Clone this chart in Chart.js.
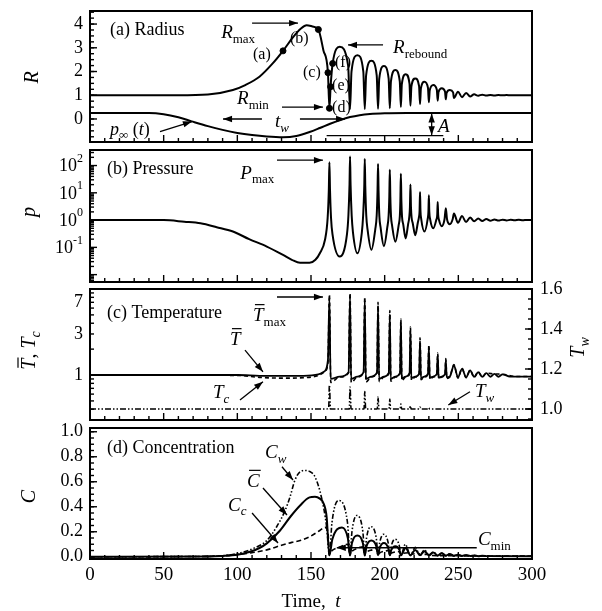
<!DOCTYPE html>
<html><head><meta charset="utf-8">
<script src="https://cdn.jsdelivr.net/npm/chart.js@4.4.1/dist/chart.umd.min.js"></script>
<style>
  html, body { margin: 0; padding: 0; background: #fff; }
  #wrap { position: relative; width: 602px; height: 611px; }
  canvas { position: absolute; left: 0; top: 0; }
</style></head>
<body>
<div id="wrap">
  <canvas id="ca" width="602" height="611"></canvas>
  <canvas id="cb" width="602" height="611"></canvas>
  <canvas id="cc" width="602" height="611"></canvas>
  <canvas id="cd" width="602" height="611"></canvas>
</div>
<script>
// ---- data: [time, value] ----
const radius = [
  [0,1],[60,1],[80,1.03],[97,1.22],[105,1.42],[115,1.78],[124,2.34],[131,2.87],[138,3.46],[143,3.8],[147,3.95],[151,3.9],[155,3.77],[158.4,2.9],[161.5,1.95],[162.5,0.45],
  [163.3,1.36],[164.7,2.34],[169.5,3.04],[175.2,2.25],[176.5,0.42],
  [177.5,2.01],[181.5,2.69],[185.5,2.01],[186.5,0.42],
  [187.4,1.84],[191,2.45],[194.6,1.84],[195.5,0.43],
  [196.3,1.69],[199.5,2.23],[202.7,1.7],[203.5,0.45],
  [204.25,1.58],[207.25,2.06],[210.25,1.59],[211,0.5],
  [211.65,1.47],[214.25,1.89],[216.85,1.49],[217.5,0.56],
  [218.15,1.37],[220.75,1.71],[223.35,1.39],[224,0.63],
  [224.6,1.29],[227,1.57],[229.4,1.31],[230,0.7],
  [230.6,1.21],[233,1.43],[235.4,1.23],[236,0.77],
  [236.55,1.14],[238.75,1.3],[240.95,1.16],[241.5,0.83],
  [242.05,1.1],[244.25,1.22],[246.45,1.12],[247,0.88],
  [249.75,1.15],[252.5,0.92],[255.25,1.1],[258,0.95],[260.75,1.04],[263.5,0.98],[266.25,1.025],[269,0.985],
  [271.75,1.015],[274.5,0.99],[277.25,1.01],[280,0.995],[282.75,1.008],[285.5,0.995],[288.25,1.005],[291,0.997],
  [293.75,1.004],[296.5,0.998],[300,1]
];
const radiusDots = [[131,2.87],[155,3.77],[161.5,1.95],[162.5,0.45],[163.3,1.36],[164.7,2.34]];
const dotNames = ['(a)','(b)','(c)','(d)','(e)','(f)'];
const pInf = [
  [0,0.25],[40,0.25],[50,0.2],[60,0.07],[69,-0.1],[80,-0.3],[90,-0.46],[100,-0.59],[110,-0.68],[120,-0.74],[131,-0.77],
  [140,-0.72],[149,-0.55],[156,-0.38],[163,-0.2],[170,-0.04],[176.5,0.08],[183,0.16],[190,0.21],[200,0.24],[215,0.25],[300,0.25]
];
const pressure = [
  [0,1],[50,1],[64,0.87],[75,0.76],[86,0.55],[97,0.38],[108,0.2],[120,0.107],[131,0.053],[137,0.035],[142.6,0.027],[149,0.027],[153,0.035],[156,0.061],[159.5,0.19],
  [161.3,1.2],[162.1,13],[162.5,132],[162.9,13],
  [163.6,1.2],[164.6,0.3],[169.5,0.046],[174.4,0.3],[175.4,1.5],[176.15,21],[176.5,213],[176.85,21],
  [177.6,1.5],[178.5,0.35],[181.5,0.061],[184.5,0.35],[185.4,1.5],[186.15,17],[186.5,175],[186.85,17],
  [187.5,1.5],[188.4,0.45],[191,0.081],[193.6,0.45],[194.6,1.5],[195.15,12],[195.5,115],[195.85,12],
  [196.4,1.4],[197.2,0.55],[199.5,0.11],[201.8,0.55],[202.7,1.5],[203.15,7],[203.5,70],[203.85,7],
  [204.3,1.4],[205,0.65],[207.25,0.16],[209.5,0.65],[210.3,1.4],[210.65,5],[211,50],[211.35,5],
  [211.8,1.3],[212.6,0.7],[214.25,0.21],[215.9,0.7],[216.7,1.3],[217.15,3],[217.5,20],[217.85,3],
  [218.3,1.2],[219,0.8],[220.75,0.28],[222.5,0.8],[223.3,1.3],[223.7,2.2],[224,10.7],[224.3,2.2],
  [224.8,1.1],[227,0.38],[229.2,1.1],[229.7,2],[230,8.1],[230.3,2],
  [230.9,1.05],[233,0.5],[235.1,1.05],[235.7,1.6],[236,4.6],[236.3,1.6],
  [236.9,1],[238.75,0.6],[240.6,1.05],[241.5,2.7],
  [242.3,1.1],[244.25,0.71],[246.2,1.1],[247,1.75],
  [249.75,0.8],[252.5,1.4],[255.25,0.85],[258,1.25],[260.75,0.9],[263.5,1.15],[266.25,0.93],[269,1.1],
  [271.75,0.95],[274.5,1.06],[277.25,0.96],[280,1.04],[282.75,0.97],[285.5,1.03],[288.25,0.98],[291,1.02],
  [293.75,0.985],[296.5,1.015],[300,1]
];
const tBar = [
  [0,1],[100,1],[115,0.98],[130,0.975],[145,0.98],[155,1.02],[159,1.1],[161.5,1.5],[162.5,7.9],
  [163.3,0.9],[169.5,0.96],[175.5,1.08],[176.5,8.3],
  [177.2,0.9],[181.5,0.96],[185.7,1.08],[186.5,7.4],
  [187.2,0.9],[191,0.96],[194.8,1.07],[195.5,6.4],
  [196.2,0.9],[199.5,0.96],[202.8,1.06],[203.5,5.1],
  [204.1,0.9],[207.25,0.96],[210.4,1.05],[211,4.1],
  [211.6,0.91],[214.25,0.96],[216.9,1.05],[217.5,3.3],
  [218.1,0.92],[220.75,0.96],[223.4,1.04],[224,2.5],
  [224.6,0.92],[227,0.96],[229.4,1.04],[230,2.1],
  [230.6,0.93],[233,0.96],[235.4,1.03],[236,1.69],
  [236.6,0.93],[238.75,0.96],[241,1.03],[241.5,1.48],
  [242.1,0.94],[244.25,0.96],[247,1.29],[249.75,0.94],[252.5,1.18],[255.25,0.94],[258,1.13],[260.75,0.95],
  [263.5,1.08],[266.25,0.95],[269,1.05],[271.75,0.955],[274.5,1.03],[277.25,0.955],[280,1.02],[285,0.96],[300,0.96]
];
const tCore = [
  [0,1],[100,0.99],[115,0.94],[130,0.92],[145,0.93],[155,0.99],[159,1.08],[161.5,1.4],[162.5,8.6],
  [163.4,0.82],[169.5,0.95],[175.5,1.06],[176.5,9],
  [177.3,0.82],[181.5,0.95],[185.7,1.06],[186.5,8.1],
  [187.3,0.83],[191,0.95],[194.8,1.05],[195.5,7],
  [196.3,0.84],[199.5,0.95],[202.8,1.04],[203.5,5.6],
  [204.2,0.85],[207.25,0.95],[210.4,1.04],[211,4.5],
  [211.7,0.86],[214.25,0.95],[216.9,1.03],[217.5,3.6],
  [218.2,0.87],[220.75,0.95],[223.4,1.03],[224,2.7],
  [224.7,0.88],[227,0.95],[229.4,1.02],[230,2.25],
  [230.7,0.89],[233,0.95],[235.4,1.02],[236,1.8],
  [236.7,0.9],[238.75,0.95],[241,1.02],[241.5,1.55],
  [242.2,0.91],[244.25,0.95],[247,1.32],[249.75,0.92],[252.5,1.2],[255.25,0.93],[258,1.14],[260.75,0.94],
  [263.5,1.09],[266.25,0.945],[269,1.05],[274.5,1.03],[280,1.02],[290,0.96],[300,0.96]
];
const tWall = [
  [0,1],[160,1],[162,1.005],[162.5,1.12],[163.2,1],[176,1],[176.5,1.11],[177.2,1],[186,1],[186.5,1.087],[187.1,1],
  [195,1],[195.5,1.06],[196.1,1],[203,1],[203.5,1.05],[204,1],[210.5,1],[211,1.025],[211.5,1],[217,1],[217.5,1.015],[218,1],
  [223.5,1],[224,1.01],[224.5,1],[229.5,1],[230,1.006],[230.5,1],[300,1]
];
const cMean = [
  [0,0],[80,0.002],[90,0.006],[100,0.016],[108.6,0.04],[115,0.07],[120,0.107],[129,0.21],[136,0.32],[142.6,0.41],[149,0.475],[152.7,0.48],[156,0.465],[158.4,0.43],[160.6,0.32],[162.5,0.01],
  [164.5,0.14],[171,0.235],[175,0.15],[176.5,0.01],
  [177.8,0.11],[181.5,0.17],[185.2,0.11],[186.5,0.01],
  [187.7,0.085],[191,0.13],[194.3,0.085],[195.5,0.012],
  [196.6,0.07],[199.5,0.11],[202.4,0.07],[203.5,0.012],
  [204.5,0.055],[207.25,0.085],[210,0.055],[211,0.012],
  [214.25,0.07],[217.5,0.012],[220.75,0.055],[224,0.012],[227,0.045],[230,0.012],[233,0.035],[236,0.01],[238.75,0.028],[241.5,0.01],
  [244.25,0.022],[247,0.008],[249.75,0.017],[252.5,0.007],[255.25,0.013],[258,0.006],[260.75,0.01],[263.5,0.005],[266.25,0.008],[270,0.005],[300,0.004]
];
const cWall = [
  [0,0],[80,0.003],[90,0.008],[100,0.025],[111,0.067],[120,0.13],[126.7,0.24],[132.4,0.37],[135.8,0.48],[139,0.61],[142.6,0.68],[146,0.69],[149.5,0.68],[152.7,0.64],[157,0.48],[160.6,0.24],[162.5,0.01],
  [164.2,0.27],[168.6,0.45],[174.8,0.27],[176.5,0.01],
  [177.8,0.2],[181,0.33],[185.2,0.2],[186.5,0.01],
  [187.7,0.15],[190.5,0.24],[194.3,0.15],[195.5,0.01],
  [196.6,0.11],[199.2,0.18],[202.4,0.11],[203.5,0.01],
  [204.5,0.085],[207,0.14],[210,0.085],[211,0.01],
  [214,0.1],[217.5,0.01],[220.75,0.075],[224,0.01],[227,0.055],[230,0.008],[233,0.04],[236,0.007],[238.75,0.03],[241.5,0.006],
  [244.25,0.024],[247,0.005],[249.75,0.018],[252.5,0.005],[255.25,0.014],[258,0.004],[260.75,0.011],[263.5,0.004],[266.25,0.008],[269,0.004],[300,0.004]
];
const cCore = [
  [0,0],[80,0.003],[90,0.008],[100,0.018],[110,0.033],[120,0.055],[130,0.092],[137,0.115],[142.6,0.13],[149,0.16],[156,0.21],[159.5,0.235],[161.5,0.2],[162.5,0.02],
  [163.5,0.04],[170,0.08],[175,0.1],[176.5,0.02],
  [177.5,0.04],[182,0.07],[185.5,0.08],[186.5,0.02],
  [187.5,0.035],[191.5,0.055],[194.7,0.065],[195.5,0.02],
  [196.5,0.03],[200,0.045],[202.8,0.05],[203.5,0.018],
  [204.5,0.03],[210.3,0.04],[211,0.016],
  [212,0.025],[216.8,0.032],[217.5,0.014],
  [218.5,0.02],[223.3,0.026],[224,0.012],
  [225,0.016],[229.4,0.02],[230,0.01],
  [240,0.009],[260,0.006],[300,0.005]
];

// tick labels
const rTicks = [0, 1, 2, 3, 4];
const pDecades = [2, 1, 0, -1];
const tTicks = [1, 3, 7];
const twTicks = [1.0, 1.2, 1.4, 1.6];
const cTicks = [0, 0.2, 0.4, 0.6, 0.8, 1.0];
const timeTicks = [0, 50, 100, 150, 200, 250, 300];

Chart.defaults.font.family = '"Liberation Serif", "Times New Roman", serif';
Chart.defaults.font.size = 18;
Chart.defaults.color = '#000';

const FONT = '"Liberation Serif", serif';

function rich(ctx, x, y, parts, size = 18, align = 'left') {
  ctx.textBaseline = 'middle';
  ctx.textAlign = 'left';
  const seg = parts.map(([s, k]) => {
    const sub = k.includes('s');
    const fs = sub ? Math.round(size * 0.7) : size;
    return { s, k, sub, font: (k.includes('i') ? 'italic ' : '') + fs + 'px ' + FONT };
  });
  let w = 0;
  seg.forEach(g => { ctx.font = g.font; g.w = ctx.measureText(g.s).width; w += g.w; });
  let cx = align === 'center' ? x - w / 2 : x;
  seg.forEach(g => {
    ctx.font = g.font;
    ctx.fillText(g.s, cx, g.sub ? y + size * 0.32 : y);
    if (g.k.includes('b')) {
      ctx.beginPath(); ctx.lineWidth = 1.2;
      ctx.moveTo(cx + 2, y - size * 0.6); ctx.lineTo(cx + g.w + 1, y - size * 0.6); ctx.stroke();
    }
    cx += g.w;
  });
}
function vrich(ctx, x, y, parts, size) {
  ctx.save(); ctx.translate(x, y); ctx.rotate(-Math.PI / 2);
  rich(ctx, 0, 0, parts, size, 'center');
  ctx.restore();
}
function head(ctx, x, y, ang) {
  const L = 9, W = 3.2, c = Math.cos(ang), s = Math.sin(ang);
  ctx.beginPath();
  ctx.moveTo(x, y);
  ctx.lineTo(x - L * c + W * s, y - L * s - W * c);
  ctx.lineTo(x - L * c - W * s, y - L * s + W * c);
  ctx.closePath(); ctx.fill();
}
function arrow(ctx, p1, p2, both) {
  const ang = Math.atan2(p2[1] - p1[1], p2[0] - p1[0]);
  ctx.lineWidth = 1.3;
  ctx.beginPath(); ctx.moveTo(p1[0], p1[1]); ctx.lineTo(p2[0], p2[1]); ctx.stroke();
  head(ctx, p2[0], p2[1], ang);
  if (both) head(ctx, p1[0], p1[1], ang + Math.PI);
}

function deco(spec) {
  return {
    id: 'deco',
    afterDraw(chart) {
      const ctx = chart.ctx, a = chart.chartArea, xs = chart.scales.x;
      ctx.save();
      ctx.strokeStyle = '#000'; ctx.fillStyle = '#000'; ctx.lineWidth = 1.4;
      const seg = (x1, y1, x2, y2) => { ctx.beginPath(); ctx.moveTo(x1, y1); ctx.lineTo(x2, y2); ctx.stroke(); };
      for (let t = 0; t <= 300; t += 10) {
        const x = xs.getPixelForValue(t);
        seg(x, a.bottom, x, a.bottom - (t % 50 === 0 ? 7 : 4));
      }
      const side = (axis, vals, L, right) => {
        const s = chart.scales[axis];
        vals.forEach(v => {
          const y = s.getPixelForValue(v);
          if (y < a.top - 0.5 || y > a.bottom + 0.5) return;
          if (right) seg(a.right, y, a.right - L, y); else seg(a.left, y, a.left + L, y);
        });
      };
      side('y', spec.minor, 4); side('y', spec.major, 7);
      if (spec.rMajor) { side('y2', spec.rMinor, 4, true); side('y2', spec.rMajor, 7, true); }
      ctx.lineWidth = 2;
      ctx.strokeRect(a.left, a.top, a.right - a.left, a.bottom - a.top);
      const P = (t, v, ax = 'y') => [xs.getPixelForValue(t), chart.scales[ax].getPixelForValue(v)];
      spec.draw(ctx, P, a, chart);
      ctx.restore();
    }
  };
}

function line(data, extra) {
  return Object.assign({
    data: data.map(([x, y]) => ({ x, y })),
    borderColor: '#000', borderWidth: 2, pointRadius: 0,
    cubicInterpolationMode: 'monotone', fill: false
  }, extra || {});
}

function fixV(w) {
  return s => { s.width = w; s.paddingTop = 0; s.paddingBottom = 0; };
}

function leftAxis(o) {
  return Object.assign({
    position: 'left',
    grid: { display: false, drawTicks: false }, border: { display: false },
    ticks: { padding: 7, autoSkip: false, callback: v => String(v) },
    afterFit: fixV(90)
  }, o);
}

function panel(id, top, bottom, datasets, yScales, spec, showX, rightAxis) {
  const xAxis = {
    type: 'linear', min: 0, max: 300, display: showX,
    grid: { display: false, drawTicks: false }, border: { display: false },
    ticks: { padding: 5, autoSkip: false, font: { size: 19 } },
    afterBuildTicks: s => { s.ticks = timeTicks.map(v => ({ value: v })); }
  };
  if (showX) xAxis.afterFit = s => { s.height = 36; s.paddingLeft = 0; s.paddingRight = 0; };
  new Chart(document.getElementById(id), {
    type: 'line',
    data: { datasets },
    options: {
      responsive: false, animation: false, devicePixelRatio: 1, events: [],
      layout: { padding: { top, bottom: showX ? 611 - bottom - 36 : 611 - bottom, left: 0, right: rightAxis ? 0 : 70 } },
      plugins: { legend: { display: false }, tooltip: { enabled: false } },
      scales: Object.assign({ x: xAxis }, yScales)
    },
    plugins: [deco(spec)]
  });
}

const range = (a, b, st) => { const r = []; for (let v = a; v <= b + 1e-9; v += st) r.push(+v.toFixed(4)); return r; };
const logMinor = (d0, d1) => { const r = []; for (let d = d0; d <= d1; d++) for (let m = 2; m <= 9; m++) r.push(m * Math.pow(10, d)); return r; };

// ---- (a) Radius ----
panel('ca', 11, 142, [
  line(radius),
  line(pInf),
  { type: 'scatter', data: radiusDots.map(([x, y]) => ({ x, y })), pointRadius: 3, pointBackgroundColor: '#000', pointBorderColor: '#000', showLine: false }
], {
  y: leftAxis({ type: 'linear', min: -0.97, max: 4.55, afterBuildTicks: s => { s.ticks = rTicks.map(v => ({ value: v })); } })
}, {
  major: rTicks, minor: range(-0.75, 4.5, 0.25),
  draw(ctx, P, a) {
    rich(ctx, ...P(13.6, 3.75), [['(a) Radius', 'r']], 18);
    rich(ctx, ...P(89, 3.62), [['R', 'i'], ['max', 's']], 19);
    arrow(ctx, P(110, 4.04), P(141.2, 4.04));
    const lab = [[110.6, 2.69], [135.7, 3.37], [144.6, 1.95], [164.3, 0.49], [164.3, 1.39], [166.3, 2.35]];
    lab.forEach(([t, v], i) => rich(ctx, ...P(t, v), [[dotNames[i], 'r']], 16));
    rich(ctx, ...P(205.7, 2.99), [['R', 'i'], ['rebound', 's']], 19);
    arrow(ctx, P(198.9, 3.12), P(175.1, 3.12));
    rich(ctx, ...P(99.8, 0.84), [['R', 'i'], ['min', 's']], 19);
    arrow(ctx, P(130.3, 0.5), P(158.1, 0.5));
    rich(ctx, ...P(125.6, -0.13), [['t', 'i'], ['w', 'si']], 19);
    arrow(ctx, P(116.7, 0), P(90.3, 0));
    arrow(ctx, P(142.5, 0), P(173.1, 0));
    rich(ctx, ...P(13.6, -0.46), [['p', 'i'], ['\u221E', 's'], [' (', 'r'], ['t', 'i'], [')', 'r']], 18);
    arrow(ctx, P(47.5, -0.53), P(69.2, -0.11));
    arrow(ctx, P(231.9, 0.23), P(231.9, -0.69), true);
    ctx.lineWidth = 1.3;
    const l1 = P(160.6, -0.7), l2 = P(239.8, -0.7);
    ctx.beginPath(); ctx.moveTo(l1[0], l1[1]); ctx.lineTo(l2[0], l2[1]); ctx.stroke();
    rich(ctx, ...P(236.2, -0.32), [['A', 'i']], 19);
    vrich(ctx, a.left - 57, (a.top + a.bottom) / 2 + 1, [['R', 'i']], 20);
  }
}, false);

// ---- (b) Pressure ----
panel('cb', 150, 282, [line(pressure)], {
  y: leftAxis({ type: 'logarithmic', min: Math.pow(10, -2.27), max: Math.pow(10, 2.57), ticks: { display: false } })
}, {
  major: [0.01, 0.1, 1, 10, 100], minor: logMinor(-3, 2),
  draw(ctx, P, a, chart) {
    const ys = chart.scales.y;
    pDecades.forEach(e => {
      const y = ys.getPixelForValue(Math.pow(10, e));
      ctx.textBaseline = 'middle'; ctx.textAlign = 'left';
      ctx.font = '12px ' + FONT;
      const ex = String(e), ew = ctx.measureText(ex).width;
      ctx.fillText(ex, a.left - 7 - ew, y - 7);
      ctx.font = '18px ' + FONT; ctx.textAlign = 'right';
      ctx.fillText('10', a.left - 7 - ew, y + 1);
    });
    rich(ctx, ...P(11.5, 71), [['(b) Pressure', 'r']], 18);
    rich(ctx, ...P(102, 50.6), [['P', 'i'], ['max', 's']], 19);
    arrow(ctx, P(126.9, 157), P(158.1, 157));
    vrich(ctx, a.left - 60, (a.top + a.bottom) / 2 - 4, [['p', 'i']], 20);
  }
}, false);

// ---- (c) Temperature ----
panel('cc', 289, 420, [
  line(tBar, { borderWidth: 1.8 }),
  line(tCore, { borderWidth: 1.6, borderDash: [4, 3] }),
  line(tWall, { borderWidth: 1.6, borderDash: [6, 2, 1.5, 2, 1.5, 2], yAxisID: 'y2' })
], {
  y: leftAxis({ type: 'logarithmic', min: 0.3, max: 10, afterBuildTicks: s => { s.ticks = tTicks.map(v => ({ value: v })); } }),
  y2: {
    type: 'linear', position: 'right', min: 0.945, max: 1.6,
    grid: { display: false, drawTicks: false }, border: { display: false },
    ticks: { padding: 8, autoSkip: false, callback: v => v.toFixed(1) },
    afterBuildTicks: s => { s.ticks = twTicks.map(v => ({ value: v })); },
    afterFit: fixV(70)
  }
}, {
  major: [1, 10], minor: logMinor(-1, 0).filter(v => v >= 0.3),
  rMajor: twTicks, rMinor: range(0.95, 1.6, 0.05),
  draw(ctx, P, a) {
    rich(ctx, ...P(11.5, 5.26), [['(c) Temperature', 'r']], 18);
    rich(ctx, ...P(110.6, 4.85), [['T', 'bi'], ['max', 's']], 19);
    arrow(ctx, P(126.9, 8.07), P(158.1, 8.07));
    rich(ctx, ...P(95, 2.55), [['T', 'bi']], 19);
    arrow(ctx, P(105.2, 1.95), P(117.4, 1.09));
    rich(ctx, ...P(83.5, 0.618), [['T', 'i'], ['c', 'si']], 19);
    arrow(ctx, P(101.8, 0.512), P(117.4, 0.836));
    rich(ctx, ...P(261.3, 1.085, 'y2'), [['T', 'i'], ['w', 'si']], 19);
    arrow(ctx, P(257.9, 1.086, 'y2'), P(243.2, 1.02, 'y2'));
    vrich(ctx, a.left - 60, (a.top + a.bottom) / 2 - 4, [['T', 'bi'], [', ', 'r'], ['T', 'i'], ['c', 'si']], 20);
    vrich(ctx, a.right + 47, (a.top + a.bottom) / 2 - 7, [['T', 'i'], ['w', 'si']], 20);
  }
}, false, true);

// ---- (d) Concentration ----
panel('cd', 428, 559, [
  line(cMean),
  line(cWall, { borderWidth: 1.6, borderDash: [5, 2, 1.5, 2, 1.5, 2] }),
  line(cCore, { borderWidth: 1.6, borderDash: [5, 3] })
], {
  y: leftAxis({ type: 'linear', min: -0.018, max: 1.03, ticks: { padding: 7, autoSkip: false, callback: v => v.toFixed(1) },
    afterBuildTicks: s => { s.ticks = cTicks.map(v => ({ value: v })); } })
}, {
  major: cTicks, minor: range(0, 1, 0.05),
  draw(ctx, P, a) {
    rich(ctx, ...P(11.5, 0.87), [['(d) Concentration', 'r']], 18);
    rich(ctx, ...P(118.8, 0.83), [['C', 'i'], ['w', 'si']], 19);
    arrow(ctx, P(130.3, 0.72), P(137.8, 0.614));
    rich(ctx, ...P(106.6, 0.6), [['C', 'bi']], 19);
    arrow(ctx, P(117.4, 0.55), P(133.7, 0.334));
    rich(ctx, ...P(93.7, 0.41), [['C', 'i'], ['c', 'si']], 19);
    arrow(ctx, P(110, 0.35), P(127.6, 0.11));
    rich(ctx, ...P(263.3, 0.134), [['C', 'i'], ['min', 's']], 19);
    arrow(ctx, P(262.5, 0.072), P(167.5, 0.072));
    vrich(ctx, a.left - 60, (a.top + a.bottom) / 2 + 3, [['C', 'i']], 20);
    rich(ctx, (a.left + a.right) / 2, 602, [['Time,  ', 'r'], ['t', 'i']], 19, 'center');
  }
}, true);
</script>
</body></html>
